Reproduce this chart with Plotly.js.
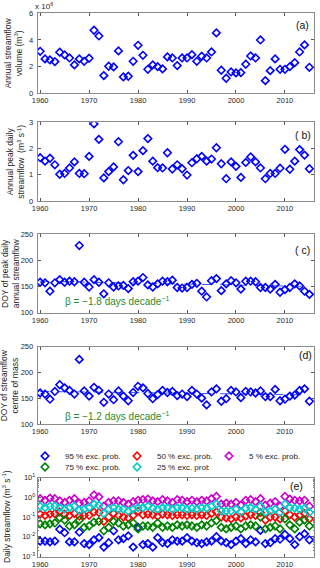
<!DOCTYPE html>
<html>
<head>
<meta charset="utf-8">
<script src="https://cdn.plot.ly/plotly-3.0.1.min.js"></script>
<style>html,body{margin:0;padding:0;background:#fff;}#chart{width:320px;height:568px;}</style>
</head>
<body>
<div id="chart"></div>
<script>
const years = [1960,1961,1962,1963,1964,1965,1966,1967,1968,1969,
  1970,1971,1972,1973,1974,1975,1976,1977,1978,1979,
  1980,1981,1982,1983,1984,1985,1986,1987,1988,1989,
  1990,1991,1992,1993,1994,1995,1996,1997,1998,1999,
  2000,2001,2002,2003,2004,2005,2006,2007,2008,2009,
  2010,2011,2012,2013,2014,2015];

// (a) annual streamflow volume, x 10^6 m3
const volume = [3.15,2.58,2.5,2.38,3.08,2.88,2.65,2.13,2.58,2.4,
  2.63,4.73,4.3,1.33,2.03,1.98,3.18,1.23,1.28,2.4,
  3.6,2.85,1.8,2.13,2.0,1.83,2.73,2.65,2.08,2.65,
  2.65,2.9,2.4,2.78,2.65,3.1,4.53,1.73,1.13,1.6,
  1.53,1.55,2.18,2.8,2.65,4.0,0.95,1.7,2.58,1.8,
  1.8,2.0,2.3,3.1,3.63,1.95];

// (b) annual peak daily streamflow, m3 s-1
const peakFlow = [1.65,1.52,1.63,1.38,1.02,1.05,1.26,1.49,1.05,1.04,
  1.70,2.94,2.35,0.88,1.12,1.30,2.26,0.81,1.16,1.74,
  1.12,1.92,2.38,1.52,1.27,1.26,1.84,1.22,1.38,1.23,
  0.99,1.46,1.61,1.70,1.52,1.60,2.03,1.42,0.85,1.49,
  1.32,0.90,1.47,1.68,1.49,1.26,0.85,1.05,1.05,1.25,
  1.97,1.21,1.52,1.96,1.75,1.23];

// (c) DOY of peak daily annual streamflow
const doyPeak = [158,157,141,157,163,158,160,159,228,158,
  149,163,158,136,157,149,151,152,146,159,
  160,167,153,149,155,160,159,162,148,147,
  148,154,156,141,130,161,165,142,155,161,
  157,145,160,160,159,148,148,145,154,139,
  144,148,155,151,141,135];
const trendYearsC = [1960, 2015];
const trendC = [160, 150];

// (d) DOY of streamflow centre of mass
const doyCom = [160,158,148,163,176,170,165,158,225,164,
  154,171,165,142,158,147,164,154,145,161,
  173,170,159,149,157,165,161,163,155,158,
  153,165,158,150,137,162,168,144,149,165,
  162,151,163,162,160,164,153,153,167,145,
  148,154,156,165,168,144];
const trendYearsD = [1960, 2015];
const trendD = [163, 156.5];

// (e) daily streamflow at exceedance probabilities, m3 s-1
const q95 = [0.006,0.006,0.0055,0.006,0.024,0.016,0.0055,0.0055,0.017,0.0045,
  0.004,0.007,0.009,0.003,0.005,0.02,0.007,0.008,0.011,0.003,
  0.03,0.004,0.0045,0.003,0.009,0.005,0.0045,0.007,0.006,0.006,
  0.009,0.006,0.005,0.0045,0.0055,0.006,0.01,0.006,0.005,0.004,
  0.006,0.008,0.0045,0.007,0.0055,0.021,0.0045,0.005,0.008,0.0075,
  0.013,0.008,0.004,0.01,0.014,0.007];
const q75 = [0.045,0.04,0.045,0.05,0.09,0.07,0.035,0.04,0.07,0.03,
  0.035,0.055,0.06,0.02,0.03,0.06,0.05,0.035,0.04,0.05,
  0.025,0.035,0.035,0.03,0.05,0.03,0.035,0.03,0.04,0.035,
  0.04,0.035,0.03,0.04,0.035,0.05,0.065,0.03,0.025,0.03,
  0.035,0.025,0.035,0.04,0.035,0.1,0.025,0.03,0.035,0.025,
  0.08,0.04,0.025,0.055,0.07,0.035];
const q50 = [0.14,0.12,0.14,0.15,0.18,0.14,0.12,0.15,0.11,0.12,
  0.12,0.18,0.17,0.06,0.1,0.15,0.12,0.1,0.09,0.12,
  0.2,0.13,0.14,0.13,0.11,0.14,0.13,0.12,0.13,0.13,
  0.12,0.13,0.12,0.13,0.12,0.15,0.18,0.1,0.09,0.08,
  0.1,0.09,0.11,0.13,0.12,0.17,0.07,0.1,0.1,0.08,
  0.2,0.13,0.1,0.12,0.15,0.08];
const q25 = [0.35,0.3,0.35,0.35,0.3,0.25,0.3,0.35,0.22,0.25,
  0.3,0.45,0.4,0.15,0.25,0.3,0.25,0.25,0.2,0.25,
  0.3,0.3,0.35,0.28,0.25,0.3,0.3,0.25,0.3,0.3,
  0.25,0.28,0.25,0.3,0.28,0.35,0.45,0.2,0.2,0.2,
  0.25,0.18,0.28,0.3,0.25,0.35,0.18,0.2,0.25,0.17,
  0.45,0.3,0.28,0.25,0.28,0.17];
const q5 = [0.85,0.7,0.9,0.85,0.65,0.55,0.7,0.85,0.5,0.55,
  0.65,1.3,1.05,0.35,0.55,0.65,0.65,0.55,0.45,0.6,
  0.7,0.75,0.8,0.65,0.6,0.75,0.65,0.55,0.75,0.7,
  0.6,0.7,0.6,0.7,0.65,0.85,1.1,0.45,0.5,0.45,
  0.55,0.4,0.7,0.75,0.6,0.85,0.4,0.5,0.6,0.35,
  1.1,0.8,0.7,0.65,0.7,0.35];

const xTicks = [1960,1970,1980,1990,2000,2010];
const tickFont = {family:'Liberation Sans, Arial, sans-serif', size:7.5, color:'#262626'};
const textColor = '#262626';
const green = '#2a8a2a';

function mk(color){ return {symbol:'diamond-open', size:5.8, color:color, line:{width:1.6, color:color}}; }

const traces = [
  {x:years, y:volume, xaxis:'x', yaxis:'y', mode:'markers', marker:mk('#0000ff'), showlegend:false, type:'scatter'},
  {x:years, y:peakFlow, xaxis:'x2', yaxis:'y2', mode:'markers', marker:mk('#0000ff'), showlegend:false, type:'scatter'},
  {x:trendYearsC, y:trendC, xaxis:'x3', yaxis:'y3', mode:'lines', line:{color:'#3355ff', width:1, dash:'dash'}, showlegend:false, type:'scatter'},
  {x:years, y:doyPeak, xaxis:'x3', yaxis:'y3', mode:'markers', marker:mk('#0000ff'), showlegend:false, type:'scatter'},
  {x:trendYearsD, y:trendD, xaxis:'x4', yaxis:'y4', mode:'lines', line:{color:'#3355ff', width:1, dash:'dash'}, showlegend:false, type:'scatter'},
  {x:years, y:doyCom, xaxis:'x4', yaxis:'y4', mode:'markers', marker:mk('#0000ff'), showlegend:false, type:'scatter'},
  {x:years, y:q95, xaxis:'x5', yaxis:'y5', mode:'markers', marker:mk('#0000ff'), name:'95 % exc. prob.', legend:'legend', type:'scatter'},
  {x:years, y:q50, xaxis:'x5', yaxis:'y5', mode:'markers', marker:mk('#ff0000'), name:'50 % exc. prob.', legend:'legend', type:'scatter'},
  {x:years, y:q5, xaxis:'x5', yaxis:'y5', mode:'markers', marker:mk('#cc00cc'), name:'5 % exc. prob.', legend:'legend', type:'scatter'},
  {x:years, y:q75, xaxis:'x5', yaxis:'y5', mode:'markers', marker:mk('#008000'), name:'75 % exc. prob.', legend:'legend2', type:'scatter'},
  {x:years, y:q25, xaxis:'x5', yaxis:'y5', mode:'markers', marker:mk('#00cccc'), name:'25 % exc. prob.', legend:'legend2', type:'scatter'}
];

const H = 568, W = 320;
const xd = [37.7/W, 314.3/W];
function yd(top, bottom){ return [1 - bottom/H, 1 - top/H]; }
function xax(anchor){
  return {anchor:anchor, domain:xd, range:[1959.5, 2016], tickvals:xTicks, ticks:'inside', ticklen:3,
    tickcolor:'#555', mirror:'allticks', showline:true, linecolor:'#8a8a8a', linewidth:1,
    showgrid:false, zeroline:false, tickfont:tickFont, fixedrange:true};
}
function yax(anchor, dom, range, tv){
  return {anchor:anchor, domain:dom, range:range, tickvals:tv, ticks:'inside', ticklen:3,
    tickcolor:'#555', mirror:'allticks', showline:true, linecolor:'#8a8a8a', linewidth:1,
    showgrid:false, zeroline:false, tickfont:tickFont, fixedrange:true, ticklabelstandoff:2};
}

const y5 = yax('x5', yd(477.5, 556.5), [-3, 1], [0.001,0.01,0.1,1,10]);
y5.type = 'log';
y5.ticktext = ['10<sup>-3</sup>','10<sup>-2</sup>','10<sup>-1</sup>','10<sup>0</sup>','10<sup>1</sup>'];
y5.minor = {ticks:'inside', ticklen:1.5, tickcolor:'#777', dtick:'D1'};
y5.ticklabelstandoff = 0;

const tf = {family:'Liberation Sans, Arial, sans-serif', size:8.5, color:textColor};
function ytitle(text, x, ycenter){
  return {text:text, x:x/W, y:1 - ycenter/H, xref:'paper', yref:'paper', textangle:-90,
    showarrow:false, xanchor:'center', yanchor:'middle', font:tf, align:'center'};
}
function label(text, x, y){
  return {text:text, x:x/W, y:1 - y/H, xref:'paper', yref:'paper', showarrow:false,
    xanchor:'center', yanchor:'middle', font:{family:'Liberation Sans, Arial, sans-serif', size:10.5, color:'#111'}};
}

const layout = {
  width:W, height:H, margin:{l:0, r:0, t:0, b:0},
  paper_bgcolor:'#fff', plot_bgcolor:'#fff',
  font:{family:'Liberation Sans, Arial, sans-serif', color:textColor},
  xaxis:xax('y'), xaxis2:xax('y2'), xaxis3:xax('y3'), xaxis4:xax('y4'), xaxis5:xax('y5'),
  yaxis:yax('x', yd(13.3, 93.3), [0, 6], [0,2,4,6]),
  yaxis2:yax('x2', yd(122.3, 201), [0, 3], [0,1,2,3]),
  yaxis3:yax('x3', yd(234, 312.7), [100, 250], [100,150,200,250]),
  yaxis4:yax('x4', yd(346.5, 424), [100, 250], [100,150,200,250]),
  yaxis5:y5,
  showlegend:true,
  legend:{orientation:'h', x:25/W, xanchor:'left', y:1 - 456/H, yanchor:'middle',
    entrywidth:47, entrywidthmode:'pixels', bgcolor:'rgba(0,0,0,0)',
    font:{family:'Liberation Sans, Arial, sans-serif', size:8, color:textColor}, traceorder:'normal'},
  legend2:{orientation:'h', x:25/W, xanchor:'left', y:1 - 467/H, yanchor:'middle',
    entrywidth:47, entrywidthmode:'pixels', bgcolor:'rgba(0,0,0,0)',
    font:{family:'Liberation Sans, Arial, sans-serif', size:8, color:textColor}, traceorder:'normal'},
  annotations:[
    {text:'x 10<sup>6</sup>', x:33/W, y:1 - 6/H, xref:'paper', yref:'paper', showarrow:false,
      xanchor:'left', yanchor:'middle', font:{family:'Liberation Sans, Arial, sans-serif', size:8, color:textColor}},
    ytitle('Annual streamflow<br>volume (m<sup>3</sup>)', 13, 53.3),
    ytitle('Annual peak daily<br>streamflow  (m<sup>3</sup> s<sup>-1</sup>)', 16, 161.7),
    ytitle('DOY of peak daily<br>annual streamflow', 10, 273.3),
    ytitle('DOY of streamflow<br>centre of mass', 9, 385.3),
    ytitle('Daily streamflow (m<sup>3</sup> s<sup>-1</sup>)', 6, 517),
    label('(a)', 302, 25), label('( b)', 303, 135), label('( c)', 302, 250),
    label('(d)', 305, 355), label('(e)', 296, 486),
    {text:'β = −1.8 days decade<sup>−1</sup>', x:117/W, y:1 - 301/H, xref:'paper', yref:'paper', showarrow:false,
      xanchor:'center', yanchor:'middle', font:{family:'Liberation Sans, Arial, sans-serif', size:10, color:green}},
    {text:'β = −1.2 days decade<sup>−1</sup>', x:117/W, y:1 - 416/H, xref:'paper', yref:'paper', showarrow:false,
      xanchor:'center', yanchor:'middle', font:{family:'Liberation Sans, Arial, sans-serif', size:10, color:green}}
  ]
};

Plotly.newPlot('chart', traces, layout, {displayModeBar:false, staticPlot:true});
</script>
</body>
</html>
